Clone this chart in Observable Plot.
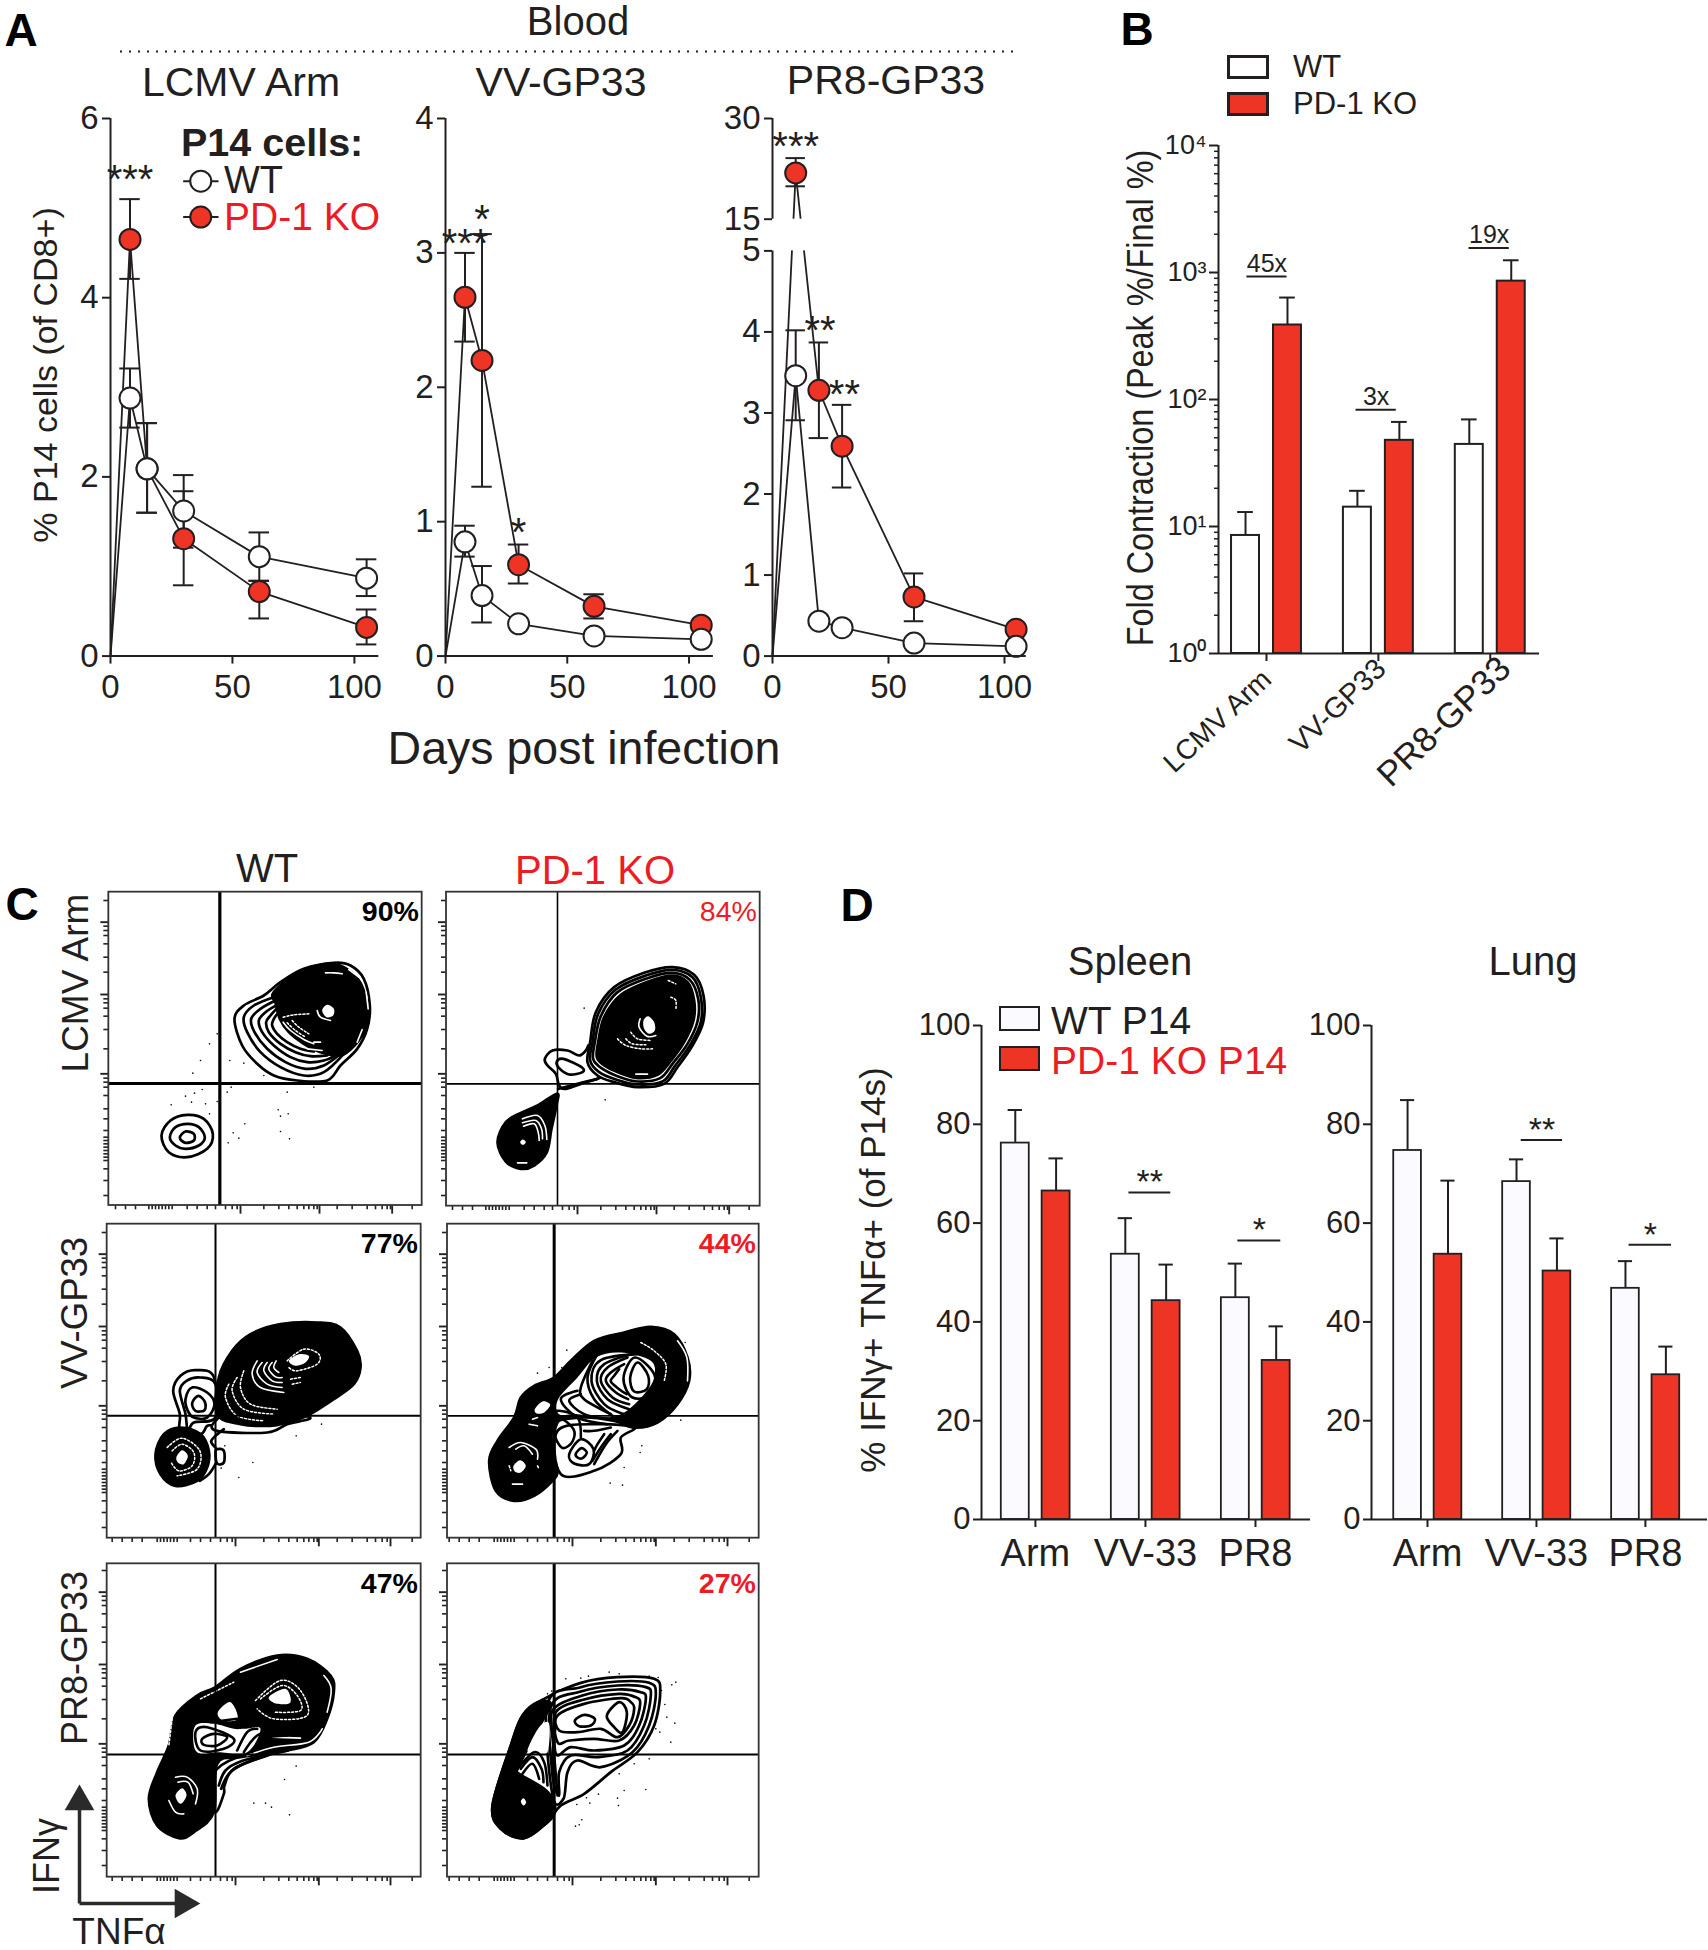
<!DOCTYPE html>
<html><head><meta charset="utf-8">
<script src="https://cdn.jsdelivr.net/npm/d3@7"></script>
<script src="https://cdn.jsdelivr.net/npm/@observablehq/plot@0.6"></script>
<style>
html,body{margin:0;padding:0;background:#fff}
#page{position:relative;width:1708px;height:1950px;overflow:hidden;background:#fff;font-family:"Liberation Sans",Arial,sans-serif}
#page svg{position:absolute;overflow:visible;max-width:none}
.t{position:absolute;white-space:nowrap;line-height:1;color:#231f20}
.s{position:absolute;box-sizing:border-box;border:2px solid #231f20}
</style></head><body><div id="page"></div>
<script>
// ---------- Panel A data ----------
const armDays=[0,8,15,30,61,105];
const armWT=[0,2.88,2.09,1.62,1.11,0.87];
const armWThi=[null,3.21,2.60,2.02,1.38,1.08];
const armWTlo=[null,2.55,1.60,1.21,0.84,0.67];
const armKO=[0,4.65,2.09,1.31,0.72,0.32];
const armKOhi=[null,5.10,2.60,1.84,0.84,0.52];
const armKOlo=[null,4.21,1.60,0.79,0.42,0.13];
const vvDays=[0,8,15,30,61,105];
const vvWT=[0,0.85,0.45,0.24,0.15,0.125];
const vvWThi=[null,0.97,0.67,null,null,null];
const vvWTlo=[null,0.74,0.25,null,null,null];
const vvKO=[0,2.67,2.20,0.68,0.37,0.23];
const vvKOhi=[null,3.0,3.14,0.83,0.46,null];
const vvKOlo=[null,2.34,1.26,0.54,0.28,null];
const prDays=[0,10,20,30,61,105];
const prWT=[0,3.46,0.43,0.35,0.16,0.12];
const prWThi=[null,4.02,null,null,null,null];
const prWTlo=[null,2.91,null,null,null,null];
const prKO=[0,21.9,3.28,2.59,0.73,0.33];
const prKOhi=[null,24.1,3.87,3.10,1.02,null];
const prKOlo=[null,19.9,2.69,2.08,0.43,null];
// ---------- Panel B data ----------
const foldCats=["LCMV Arm","VV-GP33","PR8-GP33"];
const foldWT=[8.5,14.2,44.3];
const foldWTerr=[13,19.1,69.7];
const foldKO=[386,47.7,855];
const foldKOerr=[635,66.6,1248];
const foldRatio=["45x","3x","19x"];
const foldRatioY=[928,83,1556];
const foldRatioX1=[-0.175,0.80,1.81];
const foldRatioX2=[0.183,1.16,2.17];
const foldMajor=[1,10,100,1000,10000];
const foldMinor=[2,3,4,5,6,7,8,9,20,30,40,50,60,70,80,90,200,300,400,500,600,700,800,900,2000,3000,4000,5000,6000,7000,8000,9000];
// ---------- Panel D data ----------
const cytoCats=["Arm","VV-33","PR8"];
const spleenWT=[76.2,53.7,44.9], spleenWTerr=[82.9,61,51.8];
const spleenKO=[66.5,44.3,32.2], spleenKOerr=[73.1,51.6,39.1];
const lungWT=[74.7,68.4,46.8], lungWTerr=[84.9,72.9,52.3];
const lungKO=[53.7,50.3,29.3], lungKOerr=[68.6,56.9,35];
const spleenSig=[{x1:0.85,x2:1.23,y:66.2,s:"**"},{x1:1.84,x2:2.23,y:56.5,s:"*"}];
const lungSig=[{x1:0.86,x2:1.24,y:76.8,s:"**"},{x1:1.85,x2:2.24,y:55.6,s:"*"}];
// ---------- Panel C contour outlines (channel coordinates, 0-990) ----------
const fArm1={
 rings:[[[402,400],[430,360],[490,330],[540,290],[610,250],[700,232],[750,240],[790,280],[808,360],[800,430],[770,490],[720,540],[680,585],[590,585],[520,570],[470,535],[425,480]],
  [[183,750],[210,705],[260,688],[310,700],[337,745],[320,790],[260,815],[205,800]],
  [[208,755],[225,725],[262,715],[295,725],[313,755],[295,780],[255,790],[225,780]],
  [[238,757],[255,738],[280,745],[280,765],[255,772]]],
 arcs:[[[520,335],[460,360],[430,395],[440,440],[480,500],[540,545],[610,570],[670,560],[730,505]],
  [[525,345],[480,370],[452,400],[462,440],[500,490],[555,530],[615,550],[670,540],[720,505]],
  [[530,358],[495,380],[475,405],[485,440],[520,480],[570,515],[620,530],[670,525],[715,505]],
  [[530,368],[510,390],[497,410],[505,440],[540,475],[585,500],[630,512],[680,510]],
  [[535,380],[520,400],[515,420],[530,445],[560,470],[600,490],[640,498]]],
 solid:[[[520,320],[600,258],[700,236],[772,280],[800,360],[795,430],[762,480],[720,510],[660,500],[610,475],[565,440],[538,400],[526,355]]],
 light:[[[675,262],[700,262],[725,265]],[[745,252],[775,275]],[[797,320],[803,370]],[[785,432],[770,470]],[[650,375],[660,395],[690,405]],[[640,470],[660,470]],[[620,490],[665,495]],[[548,410],[570,435],[610,462],[640,475]]],
 dash:[[[548,395],[580,388],[625,385]],[[560,412],[585,435],[615,455]],[[575,405],[595,425],[625,445]]],
 holes:[[[665,375],[680,358],[700,370],[698,390],[678,395]]],
 dots:[[350,445],[327,475],[300,525],[277,563],[388,525],[430,533],[490,570],[305,612],[392,605],[380,620],[282,623],[255,632],[273,650],[315,655],[212,658],[350,648],[327,685],[560,620],[640,605],[533,673],[540,692],[563,685],[433,715],[398,742],[415,758],[383,772],[540,738],[567,760]]
};
const fArm2={
 rings:[[[322,520],[345,495],[390,495],[425,510],[445,495],[455,480],[460,530],[495,570],[440,592],[385,610],[365,600],[355,565],[330,540]],
  [[358,528],[378,520],[432,545],[435,560],[395,567],[365,548]],
  [[458,470],[475,380],[530,305],[620,262],[705,245],[770,268],[798,330],[797,410],[765,480],[720,545],[680,595],[600,605],[530,590],[480,570],[450,530]],
  [[465,470],[482,385],[535,312],[625,270],[705,253],[765,275],[790,335],[790,410],[758,478],[712,542],[675,588],[600,597],[535,582],[485,560],[458,525]],
  [[472,470],[490,392],[540,320],[630,278],[705,262],[757,283],[782,340],[780,408],[750,475],[705,535],[668,578],[600,588],[540,572],[492,548],[467,520]]],
 arcs:[[[362,610],[400,600],[480,580]]],
 solid:[[[482,470],[500,395],[550,328],[635,287],[705,270],[750,290],[770,345],[768,405],[740,470],[697,530],[660,568],[600,578],[545,562],[500,540],[478,515]],
  [[180,770],[205,710],[250,682],[300,660],[358,625],[358,655],[342,730],[328,800],[290,840],[250,850],[205,828]]],
 light:[[[255,700],[300,690],[322,720],[328,762]],[[255,712],[295,705],[312,730],[315,760]],[[258,722],[290,715],[302,740],[305,765]],[[240,832],[268,832]],[[595,566],[630,566]],[[608,400],[605,425],[628,452],[655,450]]],
 dash:[[[540,460],[565,480],[610,490],[645,490]],[[565,460],[585,475],[625,478]],[[580,440],[600,460],[640,465]],[[700,335],[715,345],[715,372]],[[692,285],[715,295]]],
 holes:[[[618,405],[632,392],[650,410],[652,435],[635,445],[620,430]],[[248,770],[256,762],[265,770],[256,778]]],
 dots:[[440,368],[503,643]]
};
const fVV1={
 rings:[[[218,520],[240,475],[285,458],[340,478],[350,610],[320,625],[300,650],[240,640],[238,590]],
  [[238,520],[258,490],[300,480],[345,500],[345,600],[280,615],[262,640],[255,590]],
  [[255,545],[275,510],[320,525],[342,560],[320,600],[280,600],[262,580]],
  [[275,557],[293,535],[313,553],[312,578],[285,580]],
  [[345,610],[350,640],[500,645],[560,620],[625,598],[420,570]],
  [[345,705],[350,695],[370,700],[370,735],[350,738]]],
 arcs:[[[370,635],[345,655],[332,672],[345,690]],[[345,740],[325,770],[298,790]]],
 solid:[[[355,480],[395,400],[450,350],[540,320],[650,315],[720,330],[770,400],[780,450],[760,500],[700,545],[620,595],[560,615],[510,625],[420,620],[350,590]],
  [[165,710],[190,650],[240,630],[300,650],[325,700],[320,750],[290,790],[225,805],[180,770]]],
 light:[[[470,430],[455,470],[480,510],[550,525]],[[485,435],[470,465],[500,500],[545,510]],[[500,435],[490,460],[515,490],[545,495]],[[515,435],[505,455],[525,478],[545,480]],[[527,430],[520,450],[535,465]]],
 dash:[[[430,460],[420,510],[450,560],[530,575]],[[410,480],[395,520],[430,575],[520,590]],[[385,500],[375,540],[410,595],[490,610]],[[560,430],[610,395],[655,410],[650,440],[590,460],[565,450]],[[215,700],[245,680],[280,705],[275,745],[235,760],[212,735]],[[200,690],[245,662],[298,700],[290,755],[230,775]],[[570,485],[600,480]],[[575,500],[600,495]]],
 holes:[[[565,430],[595,410],[625,415],[615,435],[585,445]],[[228,718],[245,698],[262,715],[250,740],[232,735]]],
 dots:[[663,620],[587,655],[457,735],[415,780],[373,685],[362,752]]
};
const fVV2={
 rings:[[[480,620],[590,630],[550,660],[550,710],[470,760],[370,770],[360,640]]],
 solid:[[[155,730],[180,670],[230,600],[250,540],[290,505],[350,480],[400,430],[470,370],[560,345],[640,328],[710,350],[750,420],[755,490],[720,560],[660,615],[590,630],[530,610],[430,600],[350,620],[345,700],[360,760],[345,790],[290,835],[230,850],[175,820]]],
 light:[[[720,370],[748,420],[750,490]],[[215,690],[250,675],[295,695],[300,725]],[[235,695],[260,685],[285,710]],[[225,800],[255,800]],[[275,620],[300,625]],[[285,605],[300,600]]],
 dash:[[[610,375],[650,400],[685,440],[680,490]],[[215,745],[220,760]],[[300,745],[305,755]]],
 holes:[[[362,545],[420,480],[475,420],[550,405],[640,430],[650,480],[620,530],[560,585],[500,600],[420,590],[365,590]],
  [[228,745],[248,728],[265,745],[250,765],[232,762]],[[292,575],[315,552],[338,562],[320,585],[298,588]]],
 inksC:[[[558,482],[592,420],[650,470],[645,530],[585,540]],[[578,480],[600,435],[632,475],[628,515],[590,522]],
  [[352,640],[370,605],[408,635],[405,672],[378,692],[358,670]],[[395,710],[430,665],[468,695],[455,740],[410,738]],[[415,708],[432,692],[448,705],[435,722],[420,720]]],
 inks:[[[590,408],[500,440],[478,490],[510,545],[575,575]],[[570,420],[510,450],[490,490],[525,540],[575,560]],[[560,440],[520,465],[505,490],[535,525],[572,545]],[[545,455],[530,475],[520,492],[545,515],[568,530]],[[600,410],[490,428],[462,490],[500,560],[560,590]],[[480,410],[450,480],[470,545],[525,595]],[[465,430],[430,510],[440,545],[520,590]],[[440,395],[420,440],[370,480]],[[420,420],[380,460],[355,490]],[[425,450],[395,475],[360,500]],[[430,530],[395,550],[440,590],[520,605]],[[420,520],[370,545],[420,600],[510,620]],[[520,630],[470,640],[440,640]],[[540,640],[505,680],[470,740]],[[520,650],[490,690],[465,730]],[[500,650],[480,680],[470,700]],[[345,610],[360,580],[420,600],[430,660]]],
 dots:[[300,467],[335,450],[373,450],[388,398],[743,375],[730,608],[613,685],[608,705],[560,750],[518,797],[555,803]]
};
const fPR1={
 rings:[[[350,640],[430,600],[560,585],[500,600],[400,640],[372,690],[370,715],[345,770],[330,700]]],
 arcs:[[[355,690],[375,645],[420,618],[510,595]],[[362,700],[385,655],[430,625],[500,600]]],
 solid:[[[145,730],[170,650],[205,570],[225,480],[290,420],[345,395],[420,340],[530,300],[620,310],[690,360],[700,410],[680,490],[640,560],[560,585],[500,595],[420,605],[350,625],[340,770],[280,830],[235,848],[170,810]]],
 light:[[[420,350],[530,312]],[[670,360],[692,400],[680,470]],[[665,520],[625,560],[520,575],[440,600]],[[515,545],[600,548]],[[225,665],[260,665],[290,700],[285,745]],[[232,680],[262,680],[278,715]],[[205,735],[225,770],[250,775]]],
 dash:[[[215,490],[205,570]],[[300,430],[400,380]],[[465,435],[540,375],[600,405],[620,480],[520,490],[470,460]],[[480,430],[545,390],[590,420],[600,465],[520,470]]],
 holes:[[[505,425],[555,400],[570,440],[530,445]],[[225,720],[245,698],[258,720],[240,745]],[[285,510],[340,505],[400,520],[430,520],[480,520],[440,590],[350,590],[300,595],[280,570]],[[352,470],[390,440],[412,490],[368,495]]],
 inksC:[[[305,550],[340,535],[380,545],[350,570],[310,568]],[[285,530],[320,515],[400,550],[370,580],[300,585]]],
 inks:[[[430,590],[470,540],[520,530]],[[455,590],[490,550],[560,540]],[[410,585],[440,530],[470,520]],[[330,500],[410,490]],[[420,440],[415,500]]],
 dots:[[587,632],[552,672],[460,743],[495,743],[513,755],[567,778]]
};
const fPR2={
 rings:[[[165,750],[220,570],[255,480],[320,430],[430,382],[540,365],[650,370],[668,410],[650,510],[600,590],[520,650],[440,715],[370,750],[330,800],[260,848],[190,820]],
  [[330,445],[430,395],[540,378],[635,382],[655,415],[635,510],[585,590],[490,635],[420,615],[390,650],[378,730],[345,720]],
  [[340,455],[430,408],[540,390],[625,395],[640,420],[620,510],[570,585],[480,605],[400,600],[365,650],[365,720],[345,660]],
  [[345,465],[435,420],[540,402],[610,410],[625,430],[605,510],[560,570],[470,585],[400,575],[360,600],[350,560]],
  [[355,470],[440,432],[545,415],[595,425],[608,445],[590,510],[545,555],[470,550],[395,555],[360,560]],
  [[360,480],[440,445],[550,428],[580,440],[590,460],[575,510],[540,545],[490,520],[420,530],[365,525]],
  [[412,495],[440,478],[472,490],[460,510],[425,512]],[[508,480],[545,440],[568,470],[555,530],[530,515]]],
 solid:[[[165,750],[220,570],[255,480],[300,440],[340,445],[310,505],[265,590],[240,640],[245,655],[320,700],[350,740],[350,775],[330,800],[260,848],[190,820]]],
 holes:[[[270,585],[305,515],[335,505],[330,590],[300,575]],[[250,738],[258,728],[266,740],[258,750]]],
 inks:[[[240,640],[290,590],[320,620],[330,690]],[[250,640],[285,605],[312,640],[318,680]],[[255,655],[285,625],[305,670]],[[340,500],[350,600],[360,720]],[[355,510],[345,600],[350,700]]],
 dots:[[385,370],[430,368],[453,362],[515,350],[545,355],[635,362],[662,366],[715,380],[703,388],[672,405],[682,447],[688,485],[712,503],[655,520],[667,530],[700,560],[635,610],[590,625],[545,655],[560,705],[625,702],[540,728],[543,750],[483,716],[447,727],[457,743],[418,747],[433,793],[425,808],[414,812],[330,415],[343,407]]
};
const flowYMajor=[110,327,565];
const flowYMinor=[45,122,135,150,175,215,260,340,352,368,392,432,490,578,590,605,630,670,700,735,755,765,775,785,795,805,815,825,850,885,930];
const flowXMajorTop=[420,657,875];
const flowXMinorTop=[45,75,105,145,155,165,175,185,195,205,215,260,290,320,345,375,395,410,490,535,565,590,610,625,640,650,710,755,800,825,845,860,870,935];
const flowXMajorBot=[405,655,870];
const flowXMinorBot=[35,65,95,125,170,180,190,200,210,220,230,270,300,330,360,380,395,490,535,565,590,610,625,640,650,710,755,800,825,845,860,935];

const INK="#231f20", RED="#ee3424", TXTRED="#ed1c24";
const page=document.getElementById("page");
function place(svg,l,t){svg.style.left=l+"px";svg.style.top=t+"px";svg.style.background="transparent";page.appendChild(svg);return svg;}
function txt(s,x,y,size,o={}){const d=document.createElement("div");d.className="t";d.textContent=s;
 d.style.left=x+"px";d.style.top=y+"px";d.style.fontSize=size+"px";
 if(o.color)d.style.color=o.color;if(o.weight)d.style.fontWeight=o.weight;
 const ax=o.anchor==="start"?"0%":o.anchor==="end"?"-100%":"-50%";
 d.style.transformOrigin=o.anchor==="end"?"100% 50%":"50% 50%";
 d.style.transform=`translate(${ax},-50%)`+(o.rotate?` rotate(${o.rotate}deg)`:"")+(o.sx?` scaleX(${o.sx})`:"");
 page.appendChild(d);}
function swatch(l,t,w,h,bg,b=3){const d=document.createElement("div");d.className="s";d.style.cssText=`left:${l}px;top:${t}px;width:${w}px;height:${h}px;background:${bg};border-width:${b}px`;page.appendChild(d);}
const baseStyle={fontFamily:"Liberation Sans, Arial, sans-serif",color:INK,background:"transparent",overflow:"visible"};
const plain=d=>`${d}`, blank=()=>"";

// ---------- A: time courses ----------
function rows(days,v,hi,lo){return days.map((d,i)=>({d,v:v[i],hi:hi[i],lo:lo[i]}));}
function seriesMarks(data,fill,cap){const e=data.filter(r=>r.hi!=null);return [
 Plot.ruleX(e,{x:"d",y1:"lo",y2:"hi",stroke:INK,strokeWidth:2}),
 Plot.ruleY(e,{y:"hi",x1:r=>r.d-cap,x2:r=>r.d+cap,stroke:INK,strokeWidth:2}),
 Plot.ruleY(e,{y:"lo",x1:r=>r.d-cap,x2:r=>r.d+cap,stroke:INK,strokeWidth:2}),
 Plot.line(data,{x:"d",y:"v",stroke:INK,strokeWidth:1.8}),
];}
function dotsMark(data,fill){return Plot.dot(data.slice(1),{x:"d",y:"v",r:10.5,fill,stroke:INK,strokeWidth:2});}
function stars(arr,fs=40){return Plot.text(arr,{x:"x",y:"y",text:"s",fontSize:fs,fill:INK,dy:fs*0.12});}
const xAxisA=()=>[Plot.ruleY([0],{stroke:INK,strokeWidth:2}),Plot.axisX([0,50,100],{tickSize:8,tickPadding:10,fontSize:33,label:null,stroke:INK,strokeWidth:2,fill:INK,tickFormat:plain})];
const yAxisA=t=>Plot.axisY(t,{tickSize:8,tickPadding:4,fontSize:33,label:null,stroke:INK,strokeWidth:2,fill:INK,tickFormat:plain});

function courseChart(o){
 const W=o.right-o.left,H=655.6-118;
 return place(Plot.plot({width:W,height:H,margin:0,style:baseStyle,
  x:{domain:[0,o.xmax],range:[0,W]},y:o.y(H),
  marks:[
   ...seriesMarks(o.ko,RED,4.2),...seriesMarks(o.wt,"white",4.2),
   ...(o.before||[]),
   dotsMark(o.ko,RED),dotsMark(o.wt,"white"),
   ...xAxisA(),...o.yAxis,stars(o.stars),...(o.extra||[])
  ]}),o.left,118);
}
const legendRowsA=[{y:5.3,fill:"white"},{y:4.9,fill:RED}];
courseChart({left:109.7,right:378,xmax:110,
 ko:rows(armDays,armKO,armKOhi,armKOlo),wt:rows(armDays,armWT,armWThi,armWTlo),
 y:H=>({domain:[0,6],range:[H,0]}),
 yAxis:[Plot.ruleX([0],{y1:0,y2:6,stroke:INK,strokeWidth:2}),yAxisA([0,2,4,6])],
 stars:[{x:8,y:5.36,s:"***"}],
 extra:[
  Plot.ruleY(legendRowsA,{y:"y",x1:()=>30,x2:()=>44.5,stroke:INK,strokeWidth:2}),
  Plot.dot(legendRowsA,{x:()=>37,y:"y",r:10.5,fill:"fill",stroke:INK,strokeWidth:2})
 ]});
courseChart({left:444.9,right:712.8,xmax:110,
 ko:rows(vvDays,vvKO,vvKOhi,vvKOlo),wt:rows(vvDays,vvWT,vvWThi,vvWTlo),
 y:H=>({domain:[0,4],range:[H,0]}),
 yAxis:[Plot.ruleX([0],{y1:0,y2:4,stroke:INK,strokeWidth:2}),yAxisA([0,1,2,3,4])],
 stars:[{x:8,y:3.1,s:"***"},{x:15,y:3.28,s:"*"},{x:30,y:0.95,s:"*"}]});
courseChart({left:772.2,right:1026,xmax:109.4,
 ko:rows(prDays,prKO,prKOhi,prKOlo),wt:rows(prDays,prWT,prWThi,prWTlo),
 y:H=>({type:"linear",domain:[0,5,15,30],range:[H,H-405.2,H-436.9,0]}),
 before:[Plot.rect([{}],{x1:()=>-1,x2:()=>25,y1:()=>5,y2:()=>15,fill:"white"})],
 yAxis:[Plot.ruleX([0],{y1:0,y2:5,stroke:INK,strokeWidth:2}),Plot.ruleX([0],{y1:15,y2:30,stroke:INK,strokeWidth:2}),
  yAxisA([0,1,2,3,4,5,15,30])],
 stars:[{x:10,y:26.4,s:"***"},{x:20.5,y:4.07,s:"**"},{x:31,y:3.28,s:"**"}]});

// texts of A
txt("A",21,30,46,{weight:900,color:"#000"});
txt("Blood",578,21,40);
place(Plot.plot({width:900,height:4,margin:0,style:baseStyle,x:{axis:null,domain:[0,1],range:[0,900]},y:{axis:null,domain:[0,1],range:[4,0]},
 marks:[Plot.ruleY([0.5],{stroke:INK,strokeWidth:2,strokeDasharray:"2 7"})]}),120,49);
txt("LCMV Arm",241,82,41);txt("VV-GP33",561,82,41);txt("PR8-GP33",886,80,41);
txt("P14 cells:",181,143,39.5,{anchor:"start",weight:700});
txt("WT",224,180,38,{anchor:"start"});
txt("PD-1 KO",224,216,39,{anchor:"start",color:TXTRED});
txt("% P14 cells (of CD8+)",45,375,34,{rotate:-90});
txt("Days post infection",584,748,46.5);

// ---------- B ----------
(function(){
 const L=1218,R=1539,T=145,B=653,W=R-L,H=B-T;
 const wt=foldCats.map((c,i)=>({i,c,v:foldWT[i],e:foldWTerr[i],x:i-0.1875}));
 const ko=foldCats.map((c,i)=>({i,c,v:foldKO[i],e:foldKOerr[i],x:i+0.1875}));
 const bw=0.125,cap=0.07;
 const ratio=foldRatio.map((s,i)=>({s,y:foldRatioY[i],x1:foldRatioX1[i],x2:foldRatioX2[i]}));
 const supers={1:"10⁰",10:"10¹",100:"10²",1000:"10³",10000:"10⁴"};
 const bars=(rowsB,fill)=>[
  Plot.ruleX(rowsB,{x:"x",y1:"v",y2:"e",stroke:INK,strokeWidth:2}),
  Plot.ruleY(rowsB,{y:"e",x1:r=>r.x-cap,x2:r=>r.x+cap,stroke:INK,strokeWidth:2}),
  Plot.rect(rowsB,{x1:r=>r.x-bw,x2:r=>r.x+bw,y1:()=>1,y2:"v",fill,stroke:INK,strokeWidth:2})];
 place(Plot.plot({width:W,height:H,margin:0,style:baseStyle,
  x:{domain:[-0.429,2.44],range:[0,W]},y:{type:"log",domain:[1,10000],range:[H,0]},
  marks:[...bars(wt,"white"),...bars(ko,RED),
   Plot.ruleX([-0.429],{y1:1,y2:10000,stroke:INK,strokeWidth:2}),
   Plot.ruleY([1],{stroke:INK,strokeWidth:2}),
   Plot.axisY(foldMajor,{tickSize:9,tickPadding:3,fontSize:27,label:null,stroke:INK,strokeWidth:2,fill:INK,tickFormat:d=>supers[d]}),
   Plot.axisY(foldMinor,{tickSize:4,label:null,stroke:INK,strokeWidth:1.5,tickFormat:blank}),
   Plot.axisX([0,1,2],{tickSize:8,label:null,stroke:INK,strokeWidth:2,tickFormat:blank}),
   Plot.ruleY(ratio,{y:"y",x1:"x1",x2:"x2",stroke:INK,strokeWidth:2}),
   Plot.text(ratio,{x:r=>(r.x1+r.x2)/2,y:"y",text:"s",fontSize:25,fill:INK,dy:-13})
  ]}),L,T);
 txt("B",1137,29,46,{weight:900,color:"#000"});
 swatch(1227,55,42,24,"white");swatch(1227,92,42,24,RED);
 txt("WT",1293,66,31,{anchor:"start"});txt("PD-1 KO",1293,103,31,{anchor:"start"});
 txt("Fold Contraction (Peak %/Final %)",1140,398,37,{rotate:-90,sx:0.875});
 txt("LCMV Arm",1267,675,28,{anchor:"end",rotate:-43});
 txt("VV-GP33",1381,664,29,{anchor:"end",rotate:-44});
 txt("PR8-GP33",1504,662,35,{anchor:"end",rotate:-44});
})();

// ---------- C: contour plots ----------
function flowPanel(f,left,top,frame,qx,qy,qw,pct,col,bold,xTicks){
 const pts={x:d=>d[0],y:d=>d[1]};
 const M=[];
 const closed=(a,o)=>(a||[]).map(p=>Plot.line(p,{...pts,curve:"cardinal-closed",...o}));
 const open=(a,o)=>(a||[]).map(p=>Plot.line(p,{...pts,curve:"cardinal",...o}));
 M.push(...closed(f.rings,{fill:"white",stroke:"#000",strokeWidth:2.7}));
 M.push(...open(f.arcs,{stroke:"#000",strokeWidth:2.7}));
 M.push(...closed(f.solid,{fill:"#000",stroke:"#000",strokeWidth:2.7}));
 M.push(...open(f.light,{stroke:"white",strokeWidth:1.6}));
 M.push(...open(f.dash,{stroke:"white",strokeWidth:1.5,strokeDasharray:"2 2"}));
 M.push(...closed(f.holes,{fill:"white"}));
 M.push(...closed(f.inksC,{stroke:"#000",strokeWidth:2.6}));
 M.push(...open(f.inks,{stroke:"#000",strokeWidth:2.6}));
 M.push(Plot.dot(f.dots,{...pts,r:0.8,fill:"#000"}));
 const [fx1,fy1,fx2,fy2]=frame;
 const ticksY=(v,l,w)=>Plot.ruleY(v,{y:d=>d,x1:()=>fx1,x2:()=>fx1-l,stroke:"#222",strokeWidth:w});
 const ticksX=(v,l,w)=>Plot.ruleX(v,{x:d=>d,y1:()=>fy2,y2:()=>fy2+l,stroke:"#222",strokeWidth:w});
 M.push(ticksY(flowYMinor,15,1.6),ticksY(flowYMajor,24,1.9),ticksX(xTicks[1],13,1.6),ticksX(xTicks[0],26,1.9));
 M.push(Plot.ruleX([qx],{y1:()=>fy1,y2:()=>fy2,stroke:"#000",strokeWidth:qw[0]}));
 M.push(Plot.ruleY([qy],{x1:()=>fx1,x2:()=>fx2,stroke:"#000",strokeWidth:qw[1]}));
 M.push(Plot.rect([{}],{x1:()=>fx1,x2:()=>fx2,y1:()=>fy1,y2:()=>fy2,stroke:"#333",strokeWidth:1.8,fill:"none"}));
 M.push(Plot.text([pct],{x:()=>fx2-10,y:()=>fy1+60,text:d=>d,textAnchor:"end",fontSize:28.5,fontWeight:bold?700:400,fill:col}));
 place(Plot.plot({width:330,height:330,margin:0,style:baseStyle,
  x:{axis:null,domain:[0,990],range:[0,330]},y:{axis:null,domain:[0,990],range:[0,330]},marks:M}),left,top);
}
const XT=[flowXMajorTop,flowXMinorTop],XB=[flowXMajorBot,flowXMinorBot];
flowPanel(fArm1,100,885,[25,20,965,960],358,594,[3.2,3.2],"90%","#000",true,XT);
flowPanel(fArm2,437,885,[27,20,968,962],360,595,[1.6,1.6],"84%",TXTRED,false,XT);
flowPanel(fVV1,100,1217,[20,20,962,962],345,595,[2,2],"77%","#000",true,XB);
flowPanel(fVV2,437,1217,[30,20,965,962],350,595,[3,1.6],"44%",TXTRED,true,XB);
flowPanel(fPR1,100,1555,[20,25,962,965],345,597,[2,2],"47%","#000",true,XB);
flowPanel(fPR2,437,1555,[30,25,965,965],350,597,[3,2],"27%",TXTRED,true,XB);
txt("C",22,904,46,{weight:900,color:"#000"});
txt("WT",267,868,40);txt("PD-1 KO",595,870,40,{color:TXTRED});
txt("LCMV Arm",75,983,37,{rotate:-90});txt("VV-GP33",75,1313,36.5,{rotate:-90});txt("PR8-GP33",75,1658,36,{rotate:-90});
txt("IFNγ",47,1856,36,{rotate:-90});txt("TNFα",119,1931,37);
// axes arrows
(function(){
 const shafts=[{x1:0,y1:0,x2:0,y2:92},{x1:0,y1:0,x2:92,y2:0}];
 const heads=[{x:0,y:91,r:0},{x:91,y:0,r:90}];
 place(Plot.plot({width:114,height:112,margin:0,style:baseStyle,x:{axis:null,domain:[0,100],range:[0,114]},y:{axis:null,domain:[0,100],range:[112,0]},
  marks:[Plot.link(shafts,{x1:"x1",y1:"y1",x2:"x2",y2:"y2",stroke:"#2a2a2a",strokeWidth:3.5}),
   Plot.dot(heads,{x:"x",y:"y",symbol:"triangle",rotate:"r",r:11,fill:"#2a2a2a"})]}),78.6,1791);
})();

// ---------- D ----------
function cytoChart(o){
 const W=o.R-o.L,T=1024.6,B=1518.6,H=B-T,bw=0.127,cap=0.065;
 const mk=(v,e,off)=>o.cats.map((c,i)=>({c,v:v[i],e:e[i],x:i+off}));
 const wt=mk(o.wt,o.wtE,-0.183),ko=mk(o.ko,o.koE,0.188);
 const bars=(r,fill)=>[
  Plot.ruleX(r,{x:"x",y1:"v",y2:"e",stroke:INK,strokeWidth:2}),
  Plot.ruleY(r,{y:"e",x1:d=>d.x-cap,x2:d=>d.x+cap,stroke:INK,strokeWidth:2}),
  Plot.rect(r,{x1:d=>d.x-bw,x2:d=>d.x+bw,y1:()=>0,y2:"v",fill,stroke:INK,strokeWidth:1.8})];
 place(Plot.plot({width:W,height:H,margin:0,style:baseStyle,
  x:{domain:o.xd,range:[0,W]},y:{domain:[0,100],range:[H,0]},
  marks:[...bars(wt,"#fbfbff"),...bars(ko,RED),
   Plot.ruleX([o.xd[0]],{y1:0,y2:100,stroke:INK,strokeWidth:2}),
   Plot.ruleY([0],{stroke:INK,strokeWidth:2}),
   Plot.axisY([0,20,40,60,80,100],{tickSize:8,tickPadding:3,fontSize:31,label:null,stroke:INK,strokeWidth:2,fill:INK,tickFormat:plain}),
   Plot.axisX([0,1,2],{tickSize:8,tickPadding:12,fontSize:38,label:null,stroke:INK,strokeWidth:2,fill:INK,tickFormat:i=>o.cats[i]}),
   Plot.ruleY(o.sig,{y:"y",x1:"x1",x2:"x2",stroke:INK,strokeWidth:2}),
   Plot.text(o.sig,{x:d=>(d.x1+d.x2)/2,y:"y",text:"s",fontSize:34,fill:INK,dy:-10})
  ]}),o.L,T);
}
cytoChart({L:981,R:1310,xd:[-0.49,2.5],cats:cytoCats,wt:spleenWT,wtE:spleenWTerr,ko:spleenKO,koE:spleenKOerr,sig:spleenSig});
cytoChart({L:1371,R:1707,xd:[-0.514,2.57],cats:cytoCats,wt:lungWT,wtE:lungWTerr,ko:lungKO,koE:lungKOerr,sig:lungSig});
txt("D",857,905,46,{weight:900,color:"#000"});
txt("Spleen",1130,961,40);txt("Lung",1533,961,40);
txt("% IFNγ+ TNFα+ (of P14s)",872,1270,35,{rotate:-90});
swatch(999,1006,41,25,"#fbfbff",2);swatch(999,1046,41,25,RED,2);
txt("WT P14",1051,1020,39,{anchor:"start"});txt("PD-1 KO P14",1051,1060,39,{anchor:"start",color:TXTRED});
</script></body></html>
